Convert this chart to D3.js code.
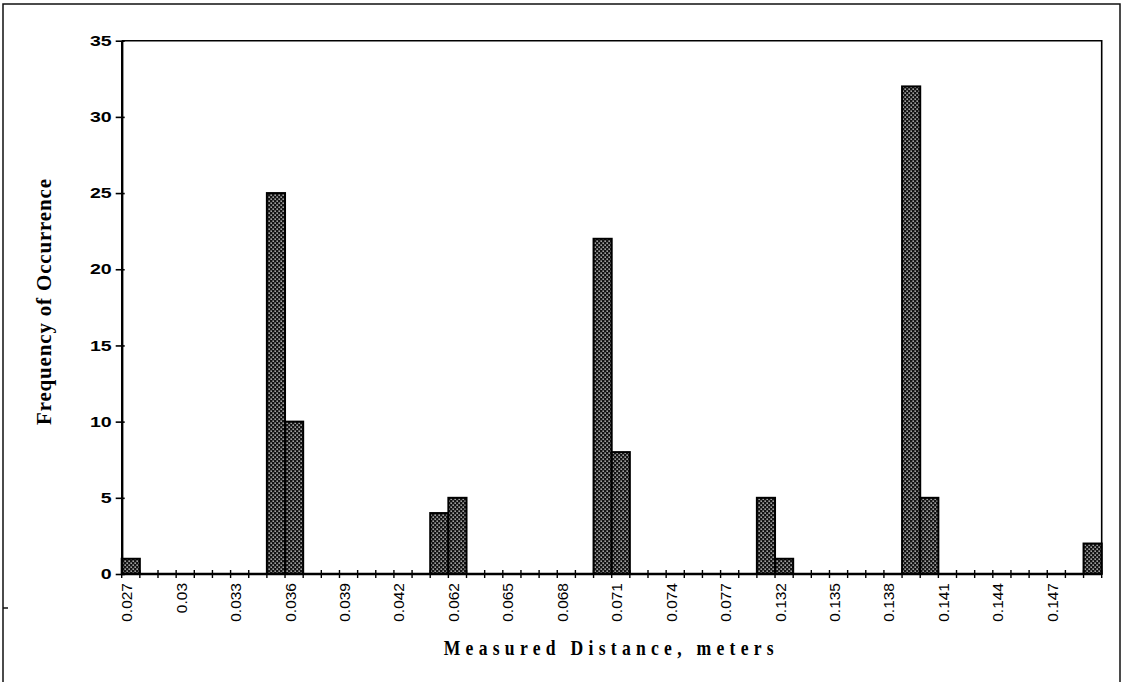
<!DOCTYPE html>
<html>
<head>
<meta charset="utf-8">
<script src="https://cdn.jsdelivr.net/npm/d3@7"></script>
<style>
  html, body { margin: 0; padding: 0; background: #fff; }
  svg { display: block; }
</style>
</head>
<body>
<script>
// ---- data ----
const categories = [
  "0.027","0.028","0.029","0.03","0.031","0.032","0.033","0.034","0.035","0.036",
  "0.037","0.038","0.039","0.04","0.041","0.042","0.06","0.061","0.062","0.063",
  "0.064","0.065","0.066","0.067","0.068","0.069","0.07","0.071","0.072","0.073",
  "0.074","0.075","0.076","0.077","0.13","0.131","0.132","0.133","0.134","0.135",
  "0.136","0.137","0.138","0.139","0.14","0.141","0.142","0.143","0.144","0.145",
  "0.146","0.147","0.148","0.149"
];
const frequency = [
  1,0,0,0,0,0,0,0,25,10,
  0,0,0,0,0,0,0,4,5,0,
  0,0,0,0,0,0,22,8,0,0,
  0,0,0,0,0,5,1,0,0,0,
  0,0,0,32,5,0,0,0,0,0,
  0,0,0,2
];
const xTickLabels = ["0.027","0.03","0.033","0.036","0.039","0.042","0.062","0.065","0.068",
                     "0.071","0.074","0.077","0.132","0.135","0.138","0.141","0.144","0.147"];
const yTicks = [0,5,10,15,20,25,30,35];
const xTitle = "Measured Distance, meters";
const yTitle = "Frequency of Occurrence";

// ---- layout ----
const W = 1123, H = 682;
const L = 121.7, R = 1101.7, T = 40.7, B = 574;

const svg = d3.select("body").append("svg").attr("width", W).attr("height", H);

const defs = svg.append("defs");
const pat = defs.append("pattern").attr("id","dots").attr("patternUnits","userSpaceOnUse")
  .attr("width",4).attr("height",4);
pat.append("rect").attr("width",4).attr("height",4).attr("fill","#141414");
pat.append("rect").attr("x",0.5).attr("y",0.5).attr("width",1.3).attr("height",1.3).attr("fill","#eeeeee");
pat.append("rect").attr("x",2.5).attr("y",2.5).attr("width",1.3).attr("height",1.3).attr("fill","#eeeeee");

// outer frame
svg.append("path").attr("d", `M3,${H+5} V4 H1120 V${H+5}`)
  .attr("fill","none").attr("stroke","#111").attr("stroke-width",1.5);
svg.append("line").attr("x1",3).attr("x2",8).attr("y1",608).attr("y2",608)
  .attr("stroke","#111").attr("stroke-width",1.5);

const x = d3.scaleBand().domain(categories).range([L, R]).padding(0);
const y = d3.scaleLinear().domain([0, 35]).range([B, T]);

// bars
svg.append("g").selectAll("rect").data(categories.map((c,i)=>({c, v:frequency[i]})).filter(d=>d.v>0))
  .join("rect")
  .attr("x", d => x(d.c))
  .attr("y", d => y(d.v))
  .attr("width", x.bandwidth())
  .attr("height", d => y(0) - y(d.v))
  .attr("fill","url(#dots)")
  .attr("stroke","#000").attr("stroke-width",2);

// plot frame (top/right)
svg.append("path").attr("d", `M${L},${T} H${R} V${B}`).attr("fill","none")
  .attr("stroke","#000").attr("stroke-width",1.6);

// y axis
const yAxis = d3.axisLeft(y).tickValues(yTicks).tickSizeInner(6).tickSizeOuter(0).tickPadding(5);
const gy = svg.append("g").attr("transform", `translate(${L},0)`).call(yAxis);
gy.select(".domain").attr("stroke","#000").attr("stroke-width",2.4);
gy.selectAll(".tick line").attr("stroke","#000").attr("stroke-width",1.6).attr("x2",-6).attr("x1",3);
gy.selectAll(".tick text")
  .attr("x", null)
  .attr("transform","translate(-10,0) scale(1.35,1)")
  .attr("font-family","'Liberation Sans', Arial, sans-serif")
  .attr("font-size","14.5px").attr("font-weight","bold").attr("fill","#000");

// x axis baseline and boundary ticks
const boundaries = categories.map(c => x(c)).concat([R]);
svg.append("line").attr("x1",L).attr("x2",R).attr("y1",B).attr("y2",B)
  .attr("stroke","#000").attr("stroke-width",2.4);
svg.append("g").selectAll("line").data(boundaries).join("line")
  .attr("x1", d => d).attr("x2", d => d).attr("y1", B-4).attr("y2", B+4)
  .attr("stroke","#000").attr("stroke-width",1.4);

// x labels
svg.append("g").selectAll("text").data(xTickLabels).join("text")
  .attr("transform", d => `translate(${x(d) + x.bandwidth()/2 - 4},${B+9}) rotate(-90)`)
  .attr("text-anchor","end").attr("dy","0.35em")
  .attr("font-family","'Liberation Sans', Arial, sans-serif").attr("font-size","15.5px")
  .attr("fill","#000").text(d => d);

// axis titles
svg.append("text")
  .attr("transform", `translate(${(L+R)/2 - 3},655) scale(0.8,1)`)
  .attr("text-anchor","middle")
  .attr("font-family","'Liberation Serif', 'Times New Roman', serif")
  .attr("font-weight","bold").attr("font-size","22px")
  .attr("textLength", 330/0.8).attr("lengthAdjust","spacing")
  .attr("fill","#000").text(xTitle);

svg.append("text")
  .attr("transform", `translate(51,302) rotate(-90)`)
  .attr("text-anchor","middle")
  .attr("font-family","'Liberation Serif', 'Times New Roman', serif")
  .attr("font-weight","bold").attr("font-size","21px")
  .attr("textLength", 246).attr("lengthAdjust","spacing")
  .attr("fill","#000").text(yTitle);
</script>
</body>
</html>
